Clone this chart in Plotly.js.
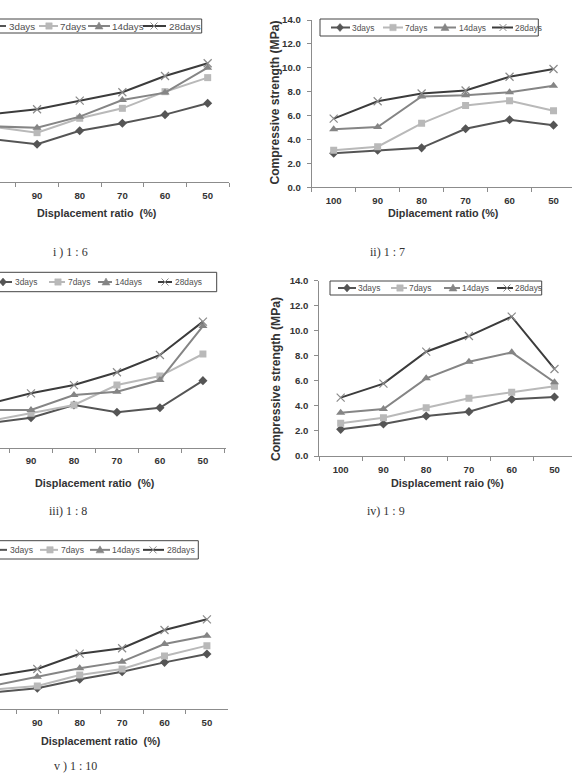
<!DOCTYPE html>
<html>
<head>
<meta charset="utf-8">
<script src="https://cdn.plot.ly/plotly-3.0.1.min.js"></script>
<style>
  html, body { margin: 0; padding: 0; background: #ffffff; }
  #chart { width: 572px; height: 774px; }
</style>
</head>
<body>
<div id="chart"></div>
<script>
// ---- data -------------------------------------------------------------
const ratios = ['100', '90', '80', '70', '60', '50'];
const ages = ['3days', '7days', '14days', '28days'];
const yTicks = [0, 2, 4, 6, 8, 10, 12, 14];

// compressive strength (MPa); rows follow `ages`, columns follow `ratios`
const mix1to6 = [
  [3.64, 3.22, 4.38, 5.01, 5.75, 6.72],
  [4.70, 4.21, 5.44, 6.29, 7.71, 8.91],
  [4.74, 4.64, 5.58, 7.00, 7.63, 9.76],
  [5.81, 6.21, 6.94, 7.66, 9.05, 10.14]
];
const mix1to7 = [
  [2.85, 3.10, 3.30, 4.90, 5.65, 5.20],
  [3.10, 3.40, 5.35, 6.85, 7.25, 6.40],
  [4.85, 5.05, 7.60, 7.70, 7.95, 8.50],
  [5.75, 7.20, 7.85, 8.10, 9.25, 9.90]
];
const mix1to8 = [
  [1.96, 2.39, 3.41, 2.83, 3.19, 5.35],
  [2.11, 2.74, 3.41, 5.00, 5.72, 7.48],
  [3.00, 3.01, 4.21, 4.47, 5.40, 9.71],
  [3.49, 4.34, 5.00, 6.02, 7.40, 10.06]
];
const mix1to9 = [
  [2.13, 2.56, 3.19, 3.54, 4.53, 4.71],
  [2.61, 3.06, 3.86, 4.61, 5.09, 5.57],
  [3.46, 3.75, 6.20, 7.53, 8.28, 5.89],
  [4.66, 5.78, 8.33, 9.58, 11.13, 6.95]
];
const mix1to10 = [
  [1.40, 1.72, 2.47, 3.10, 3.88, 4.58],
  [1.63, 1.91, 2.83, 3.33, 4.41, 5.27],
  [1.97, 2.69, 3.39, 3.94, 5.41, 6.10],
  [2.76, 3.33, 4.60, 5.05, 6.57, 7.46]
];

const captions = ['i ) 1 : 6', 'ii) 1 : 7', 'iii) 1 : 8', 'iv) 1 : 9', 'v ) 1 : 10'];
const xTitles = ['Displacement ratio  (%)', 'Diplacement ratio (%)', 'Displacement ratio  (%)',
                 'Displacement raio (%)', 'Displacement ratio  (%)'];
const yTitle = 'Compressive strength (MPa)';

// ---- styling ----------------------------------------------------------
const W = 572, H = 774;
const fx = x => x / W;          // pixel -> paper x
const fy = y => 1 - y / H;      // pixel -> paper y

const colors = ['#555555', '#b9b9b9', '#858585', '#3c3c3c'];
const symbols = ['diamond', 'square', 'triangle-up', 'x-thin-open'];
const sizes = [7, 7, 8, 8];

const SANS = 'Liberation Sans, Arial, sans-serif';
const SERIF = 'Liberation Serif, DejaVu Serif, serif';
const AXIS_GRAY = '#8c8c8c';
const TEXT = '#333333';

// panel geometry in pixels: plot box [left, top, right, bottom]
const panels = [
  { values: mix1to6, plot: [0, 18, 229, 182], xr: [0.131, 5.5], showY: false,
    box: [-5, 19, 201.7, 33], items: [[-15, 6, -5, 7], [39, 58, 49, 58], [88, 110, 99, 110], [143, 166, 154, 167]],
    lfont: 9.8, xt: [97, 213], cap: [70, 252] },
  { values: mix1to7, plot: [311.7, 20, 572, 187.3], xr: [-0.5, 5.42], showY: true,
    box: [320, 19, 538.3, 36], items: [[331, 350, 340, 350], [383, 403, 393, 403], [434, 456, 445, 457], [492, 513, 503, 513]],
    lfont: 8.4, xt: [443.3, 213.3], yt: [275, 102.5], cap: [387.5, 252] },
  { values: mix1to8, plot: [0, 272.3, 225.7, 447.7], xr: [0.279, 5.53], showY: false,
    box: [-5, 272.3, 216.7, 291.7], items: [[-8, 12, 3, 13], [49, 65, 58, 66], [98, 112, 106, 113], [158, 172, 165, 173]],
    lfont: 8.4, xt: [95, 483.3], cap: [67.5, 510.7] },
  { values: mix1to9, plot: [319.3, 280.7, 572, 456], xr: [-0.5, 5.41], showY: true,
    box: [330, 281, 541.7, 295], items: [[338, 356, 347, 356], [391, 407, 400, 407], [444, 460, 453, 460], [497, 513, 507, 513]],
    lfont: 8.4, xt: [447.5, 483], yt: [276, 379], cap: [386, 510.7] },
  { values: mix1to10, plot: [0, 540.7, 227.7, 709], xr: [0.12, 5.49], showY: false,
    box: [-5, 540.7, 198.3, 559], items: [[-15, 7, -3, 8], [40, 58, 50, 59], [90, 110, 100, 110], [143, 164, 153, 165]],
    lfont: 8.6, xt: [100.5, 741], cap: [75, 766] }
];

const traces = [];
const layout = {
  width: W, height: H,
  margin: { l: 0, r: 0, t: 0, b: 0, pad: 0 },
  paper_bgcolor: '#ffffff', plot_bgcolor: '#ffffff',
  showlegend: false,
  shapes: [], annotations: []
};

// legend glyphs drawn as paper shapes
function segment(x0, y0, x1, y1, color, width) {
  return { type: 'line', xref: 'paper', yref: 'paper', x0: fx(x0), y0: fy(y0), x1: fx(x1), y1: fy(y1),
           line: { color: color, width: width } };
}
function polygon(pts, color) {
  const d = pts.map((p, i) => (i ? 'L' : 'M') + fx(p[0]) + ',' + fy(p[1])).join(' ') + ' Z';
  return { type: 'path', xref: 'paper', yref: 'paper', path: d, fillcolor: color, line: { color: color, width: 0.5 } };
}
function glyph(k, x, y) {
  const c = colors[k];
  if (k === 0) return [polygon([[x, y - 4], [x + 3.5, y], [x, y + 4], [x - 3.5, y]], c)];
  if (k === 1) return [polygon([[x - 3.2, y - 3.2], [x + 3.2, y - 3.2], [x + 3.2, y + 3.2], [x - 3.2, y + 3.2]], c)];
  if (k === 2) return [polygon([[x, y - 4], [x + 4, y + 3], [x - 4, y + 3]], c)];
  return [segment(x - 3.5, y - 3.5, x + 3.5, y + 3.5, '#8a8a8a', 1), segment(x - 3.5, y + 3.5, x + 3.5, y - 3.5, '#8a8a8a', 1)];
}

panels.forEach((p, i) => {
  const n = i + 1;
  const xa = 'xaxis' + (n === 1 ? '' : n), ya = 'yaxis' + (n === 1 ? '' : n);
  const xr = 'x' + (n === 1 ? '' : n), yr = 'y' + (n === 1 ? '' : n);
  const [L, T, R, B] = p.plot;

  ages.forEach((age, k) => {
    traces.push({
      type: 'scatter', mode: 'lines+markers', name: age,
      x: ratios, y: p.values[k], xaxis: xr, yaxis: yr,
      line: { color: colors[k], width: 2 },
      marker: { symbol: symbols[k], size: sizes[k], color: k === 3 ? '#8a8a8a' : colors[k],
                line: { color: k === 3 ? '#8a8a8a' : colors[k], width: k === 3 ? 1.2 : 0 } },
      hoverinfo: 'x+y+name'
    });
  });

  layout[xa] = {
    domain: [fx(L), fx(R)], anchor: yr,
    type: 'category', categoryorder: 'array', categoryarray: ratios,
    range: p.xr, tickson: 'boundaries',
    showline: true, linecolor: AXIS_GRAY, linewidth: 1,
    ticks: 'outside', ticklen: 4, tickcolor: AXIS_GRAY, tickwidth: 1,
    showgrid: false, zeroline: false, ticklabelstandoff: 4,
    tickfont: { family: SANS, size: 9.6, color: TEXT, weight: 'bold' },
    fixedrange: true
  };
  layout[ya] = {
    domain: [fy(B), fy(T)], anchor: xr,
    range: [0, 14], tickvals: yTicks, tickformat: '.1f',
    visible: p.showY,
    showline: true, linecolor: AXIS_GRAY, linewidth: 1,
    ticks: 'outside', ticklen: 4, tickcolor: AXIS_GRAY, tickwidth: 1,
    showgrid: false, zeroline: false, ticklabelstandoff: 4,
    tickfont: { family: SANS, size: 9.6, color: TEXT, weight: 'bold' },
    fixedrange: true
  };

  // legend box, samples and labels
  const [bx0, by0, bx1, by1] = p.box;
  const cy = (by0 + by1) / 2;
  layout.shapes.push({ type: 'rect', xref: 'paper', yref: 'paper', x0: fx(bx0), y0: fy(by1), x1: fx(bx1), y1: fy(by0),
                       line: { color: '#444444', width: 1 }, fillcolor: 'rgba(255,255,255,0)' });
  p.items.forEach((it, k) => {
    layout.shapes.push(segment(it[0], cy, it[1], cy, colors[k], 2));
    glyph(k, it[2], cy).forEach(s => layout.shapes.push(s));
    layout.annotations.push({ xref: 'paper', yref: 'paper', x: fx(it[3]), y: fy(cy), xanchor: 'left', yanchor: 'middle',
                              text: ages[k], showarrow: false,
                              font: { family: SANS, size: p.lfont, color: '#505050' } });
  });

  // axis titles
  layout.annotations.push({ xref: 'paper', yref: 'paper', x: fx(p.xt[0]), y: fy(p.xt[1]), xanchor: 'center', yanchor: 'middle',
                            text: xTitles[i], showarrow: false,
                            font: { family: SANS, size: 10.8, color: TEXT, weight: 'bold' } });
  if (p.yt) {
    layout.annotations.push({ xref: 'paper', yref: 'paper', x: fx(p.yt[0]), y: fy(p.yt[1]), xanchor: 'center', yanchor: 'middle',
                              text: yTitle, textangle: -90, showarrow: false,
                              font: { family: SANS, size: 12.1, color: TEXT, weight: 'bold' } });
  }
  // panel caption
  layout.annotations.push({ xref: 'paper', yref: 'paper', x: fx(p.cap[0]), y: fy(p.cap[1]), xanchor: 'center', yanchor: 'middle',
                            text: captions[i], showarrow: false,
                            font: { family: SERIF, size: 12, color: TEXT } });
});

Plotly.newPlot('chart', traces, layout, { displayModeBar: false, staticPlot: true });
</script>
</body>
</html>
